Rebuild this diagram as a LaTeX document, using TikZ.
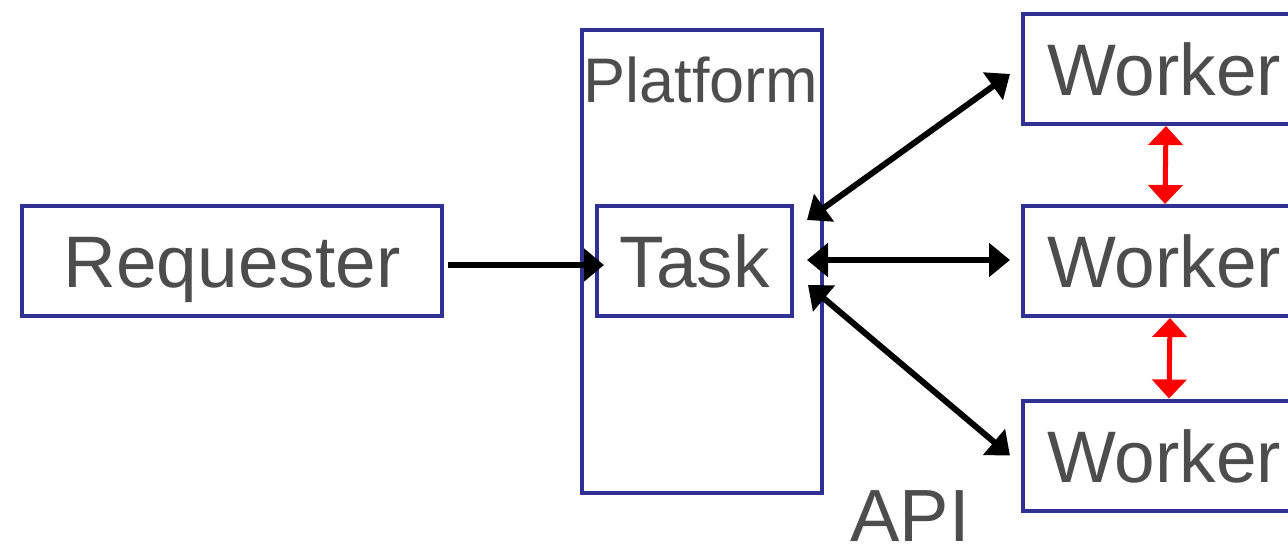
\documentclass[tikz,border=0pt]{standalone}
\usepackage{fontspec}
\setmainfont{Liberation Sans}
\usetikzlibrary{positioning, arrows.meta, calc}
\definecolor{boxblue}{HTML}{2E3192}
\definecolor{textgray}{HTML}{4D4D4D}
\tikzset{
    x=1pt,
    y=-1pt,
    box/.style={draw=boxblue, line width=4, rectangle, inner sep=0pt,
        text=textgray, font=\fontsize{73}{80}\selectfont,
        text height=53pt, text depth=0pt, minimum height=110},
    frame/.style={draw=boxblue, line width=4, rectangle, inner sep=0pt},
    caption/.style={text=textgray, inner sep=0pt, text depth=0pt},
    link/.style={line width=6, {Triangle[length=21,width=33]}-{Triangle[length=21,width=33]}},
    peer/.style={red, line width=5, {Triangle[length=19,width=34]}-{Triangle[length=19,width=34]}},
}

\begin{document}
\begin{tikzpicture}
    \useasboundingbox (0,0) rectangle (1288,544);

        \node[frame, minimum width=240, minimum height=463] (plat) at (702,261.5) {};
        \node[caption, font=\fontsize{63}{70}\selectfont, text height=46pt] (platname) at (701,79) {Platform};

        \node[box, minimum width=420] (req) at (232,261) {Requester};
        \node[box, minimum width=195] (task) at (694.5,261) {Task};

        \node[box, minimum width=282] (w1) at (1164,69) {Worker};
        \node[box, minimum width=282] (w2) at (1164,261) {Worker};
        \node[box, minimum width=282] (w3) at (1164,455.5) {Worker};

        \node[caption, font=\fontsize{74}{80}\selectfont, text height=53pt] (api) at (910,515) {API};

    \draw[line width=6, -{Triangle[length=20,width=32]}]
        ($(req.east)+(4,4)$) -- ($(task.west)+(9,4)$);
    \draw[link] ($(task.east)+(13,-41)$) -- ($(w1.west)+(-11,5)$);
    \draw[link] ($(task.east)+(13,-1)$) -- ($(w2.west)+(-11,-1)$);
    \draw[link] ($(task.east)+(14,24)$) -- ($(w3.west)+(-11,0)$);

    \draw[peer] ($(w1.south)+(2,0)$) -- ($(w2.north)+(1,0)$);
    \draw[peer] ($(w2.south)+(6,0)$) -- ($(w3.north)+(5,0)$);
\end{tikzpicture}
\end{document}
